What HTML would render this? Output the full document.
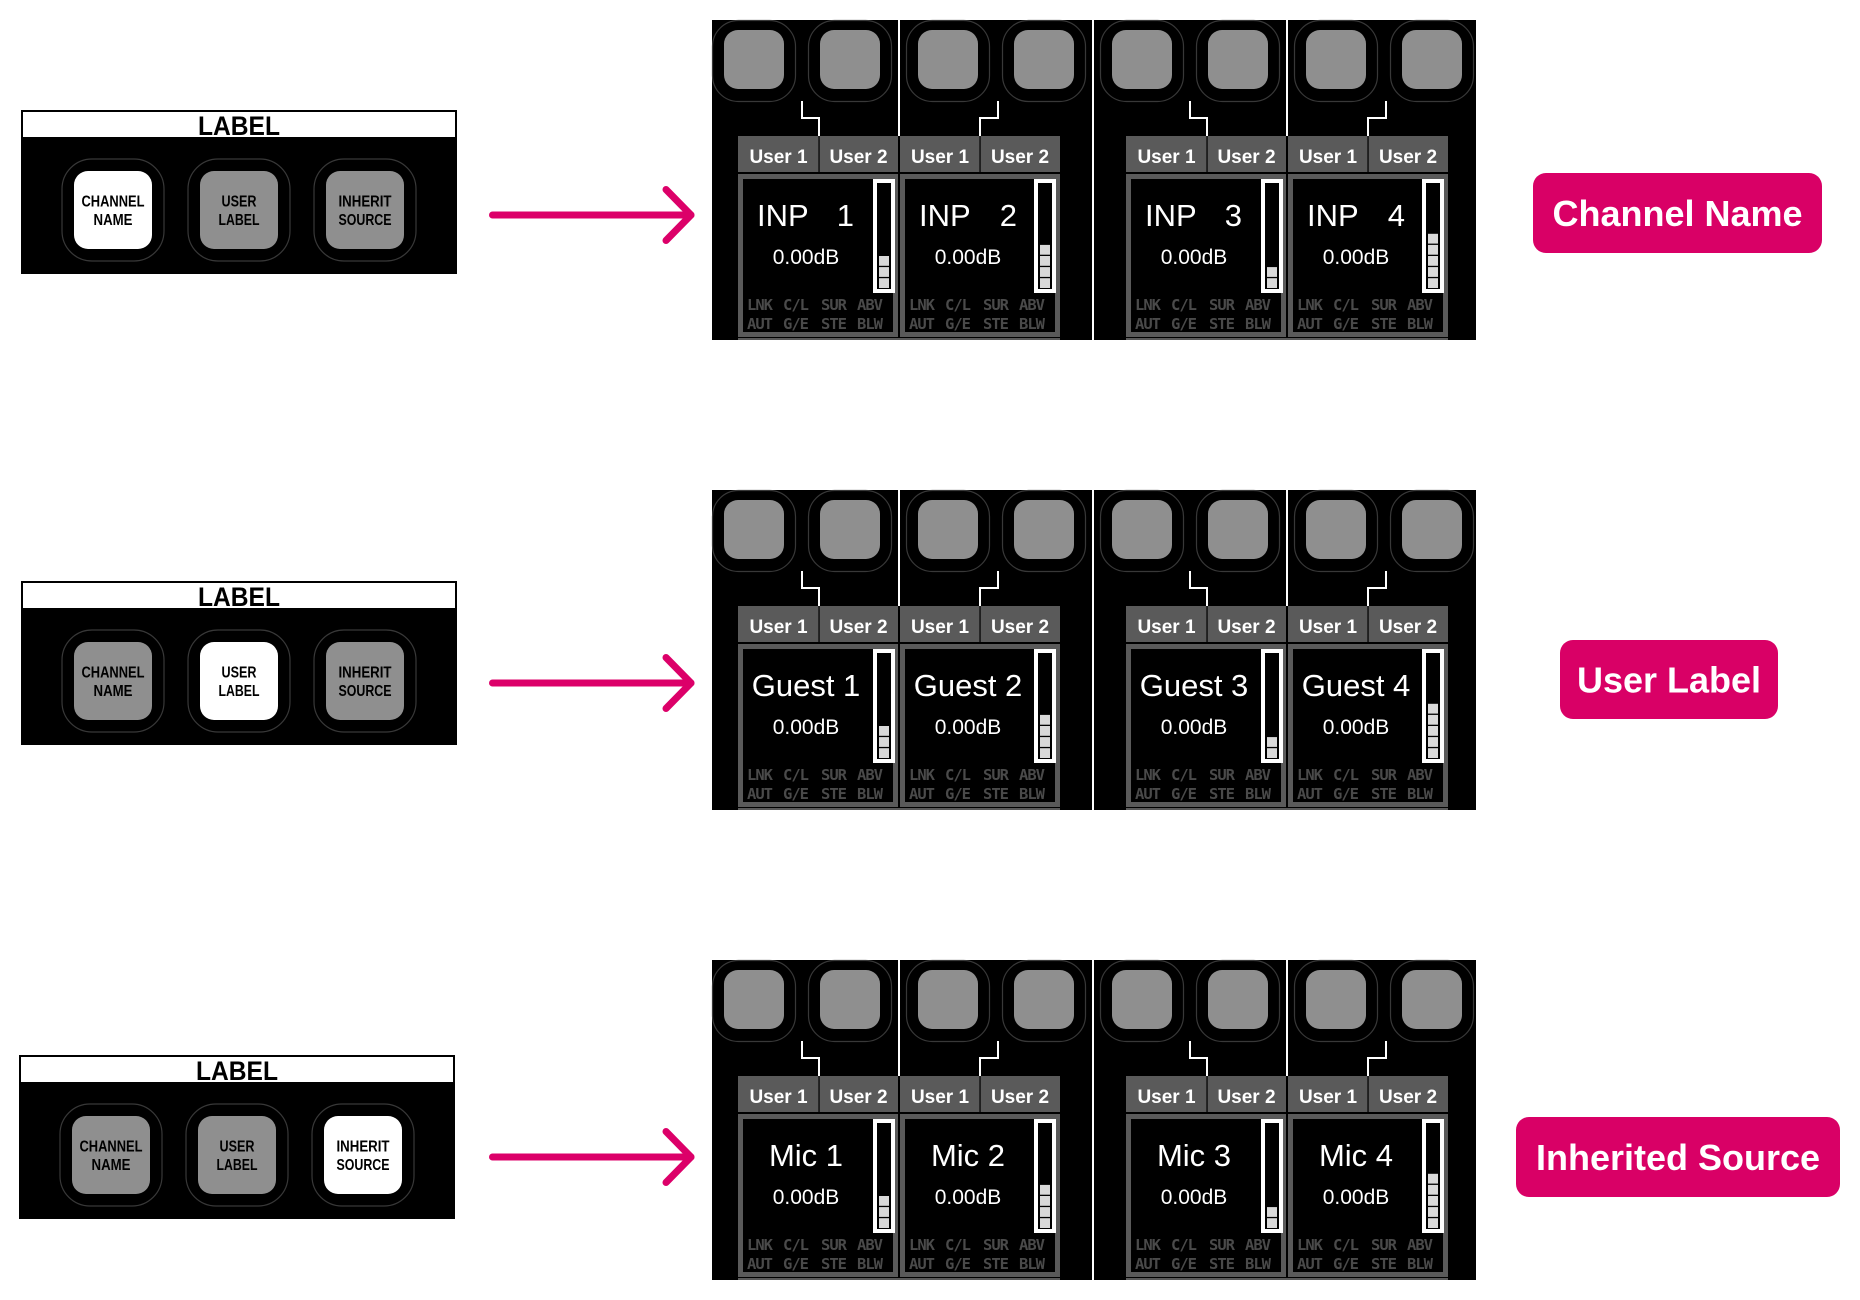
<!DOCTYPE html>
<html>
<head>
<meta charset="utf-8">
<style>
html,body{margin:0;padding:0;background:#fff;}
svg{display:block;}
.ring{fill:none;stroke:#383838;stroke-width:1.2;}
.con{fill:none;stroke:#fff;stroke-width:2;}
.disp{fill:#000;stroke:#5a5a5a;stroke-width:5;}
.mtr{fill:#000;stroke:#fff;stroke-width:4;}
.seg{fill:#d9d9d9;}
.hd{font-family:"Liberation Sans",sans-serif;font-weight:bold;font-size:19px;fill:#fff;text-anchor:middle;}
.nm{font-family:"Liberation Sans",sans-serif;font-size:31px;fill:#fff;}
.nmc{font-family:"Liberation Sans",sans-serif;font-size:31px;fill:#fff;text-anchor:middle;}
.nme{font-family:"Liberation Sans",sans-serif;font-size:31px;fill:#fff;text-anchor:end;}
.db{font-family:"Liberation Sans",sans-serif;font-size:21px;fill:#fff;text-anchor:middle;}
.st{font-family:"DejaVu Sans Mono","Liberation Mono",monospace;font-weight:bold;font-size:15.5px;fill:#4a4a4a;letter-spacing:-1px;}
.pl{font-family:"Liberation Sans",sans-serif;font-weight:bold;font-size:36px;fill:#fff;text-anchor:middle;}
.lb{font-family:"Liberation Sans",sans-serif;font-weight:bold;font-size:27px;fill:#000;text-anchor:middle;}
.bt{font-family:"Liberation Sans",sans-serif;font-weight:bold;font-size:16px;fill:#000;text-anchor:middle;}
</style>
</head>
<body>
<svg width="1860" height="1300" viewBox="0 0 1860 1300" xmlns="http://www.w3.org/2000/svg">

<!-- ================= LEFT LABEL BOXES ================= -->
<g>
  <rect x="21" y="110" width="436" height="164" fill="#000"/>
  <rect x="23" y="112" width="432" height="25" fill="#fff"/>
  <text x="239" y="135" class="lb" textLength="82" lengthAdjust="spacingAndGlyphs">LABEL</text>
  <rect x="62" y="159" width="102" height="102" rx="30" class="ring"/>
  <rect x="188" y="159" width="102" height="102" rx="30" class="ring"/>
  <rect x="314" y="159" width="102" height="102" rx="30" class="ring"/>
  <rect x="74" y="171" width="78" height="78" rx="14" fill="#fff"/>
  <rect x="200" y="171" width="78" height="78" rx="14" fill="#8f8f8f"/>
  <rect x="326" y="171" width="78" height="78" rx="14" fill="#8f8f8f"/>
  <text x="113" y="206.5" class="bt" textLength="63" lengthAdjust="spacingAndGlyphs">CHANNEL</text>
  <text x="113" y="225" class="bt" textLength="39" lengthAdjust="spacingAndGlyphs">NAME</text>
  <text x="239" y="206.5" class="bt" textLength="35" lengthAdjust="spacingAndGlyphs">USER</text>
  <text x="239" y="225" class="bt" textLength="41" lengthAdjust="spacingAndGlyphs">LABEL</text>
  <text x="365" y="206.5" class="bt" textLength="53" lengthAdjust="spacingAndGlyphs">INHERIT</text>
  <text x="365" y="225" class="bt" textLength="53" lengthAdjust="spacingAndGlyphs">SOURCE</text>
</g>

<g transform="translate(0,471)">
  <rect x="21" y="110" width="436" height="164" fill="#000"/>
  <rect x="23" y="112" width="432" height="25" fill="#fff"/>
  <text x="239" y="135" class="lb" textLength="82" lengthAdjust="spacingAndGlyphs">LABEL</text>
  <rect x="62" y="159" width="102" height="102" rx="30" class="ring"/>
  <rect x="188" y="159" width="102" height="102" rx="30" class="ring"/>
  <rect x="314" y="159" width="102" height="102" rx="30" class="ring"/>
  <rect x="74" y="171" width="78" height="78" rx="14" fill="#8f8f8f"/>
  <rect x="200" y="171" width="78" height="78" rx="14" fill="#fff"/>
  <rect x="326" y="171" width="78" height="78" rx="14" fill="#8f8f8f"/>
  <text x="113" y="206.5" class="bt" textLength="63" lengthAdjust="spacingAndGlyphs">CHANNEL</text>
  <text x="113" y="225" class="bt" textLength="39" lengthAdjust="spacingAndGlyphs">NAME</text>
  <text x="239" y="206.5" class="bt" textLength="35" lengthAdjust="spacingAndGlyphs">USER</text>
  <text x="239" y="225" class="bt" textLength="41" lengthAdjust="spacingAndGlyphs">LABEL</text>
  <text x="365" y="206.5" class="bt" textLength="53" lengthAdjust="spacingAndGlyphs">INHERIT</text>
  <text x="365" y="225" class="bt" textLength="53" lengthAdjust="spacingAndGlyphs">SOURCE</text>
</g>

<g transform="translate(-2,945)">
  <rect x="21" y="110" width="436" height="164" fill="#000"/>
  <rect x="23" y="112" width="432" height="25" fill="#fff"/>
  <text x="239" y="135" class="lb" textLength="82" lengthAdjust="spacingAndGlyphs">LABEL</text>
  <rect x="62" y="159" width="102" height="102" rx="30" class="ring"/>
  <rect x="188" y="159" width="102" height="102" rx="30" class="ring"/>
  <rect x="314" y="159" width="102" height="102" rx="30" class="ring"/>
  <rect x="74" y="171" width="78" height="78" rx="14" fill="#8f8f8f"/>
  <rect x="200" y="171" width="78" height="78" rx="14" fill="#8f8f8f"/>
  <rect x="326" y="171" width="78" height="78" rx="14" fill="#fff"/>
  <text x="113" y="206.5" class="bt" textLength="63" lengthAdjust="spacingAndGlyphs">CHANNEL</text>
  <text x="113" y="225" class="bt" textLength="39" lengthAdjust="spacingAndGlyphs">NAME</text>
  <text x="239" y="206.5" class="bt" textLength="35" lengthAdjust="spacingAndGlyphs">USER</text>
  <text x="239" y="225" class="bt" textLength="41" lengthAdjust="spacingAndGlyphs">LABEL</text>
  <text x="365" y="206.5" class="bt" textLength="53" lengthAdjust="spacingAndGlyphs">INHERIT</text>
  <text x="365" y="225" class="bt" textLength="53" lengthAdjust="spacingAndGlyphs">SOURCE</text>
</g>

<!-- ================= ARROWS ================= -->
<g stroke="#DC0069" stroke-width="7" stroke-linecap="round" stroke-linejoin="round" fill="none">
  <path d="M492.5 215H691"/><path d="M666 189.5L691 215L666 240.5"/>
  <g transform="translate(0,468)"><path d="M492.5 215H691"/><path d="M666 189.5L691 215L666 240.5"/></g>
  <g transform="translate(0,942)"><path d="M492.5 215H691"/><path d="M666 189.5L691 215L666 240.5"/></g>
</g>

<!-- ================= PILLS ================= -->
<rect x="1533" y="173" width="289" height="80" rx="13" fill="#D90066"/>
<text x="1677.5" y="226" class="pl">Channel Name</text>
<rect x="1560" y="640" width="218" height="79" rx="13" fill="#D90066"/>
<text x="1669" y="692.5" class="pl">User Label</text>
<rect x="1516" y="1117" width="324" height="80" rx="13" fill="#D90066"/>
<text x="1678" y="1170" class="pl">Inherited Source</text>

<!-- ================= PANELS ROW 1 ================= -->
<g>
  <rect x="712" y="20" width="380" height="320" fill="#000"/>
  <rect x="1094" y="20" width="382" height="320" fill="#000"/>
  <rect x="738" y="338" width="322" height="2" fill="#5a5a5a"/>
  <rect x="1126" y="338" width="322" height="2" fill="#5a5a5a"/>
  <g>
    <rect x="712.5" y="20.5" width="83" height="81" rx="26" class="ring"/>
    <rect x="724" y="30" width="60" height="59" rx="14" fill="#8f8f8f"/>
    <rect x="808.5" y="20.5" width="83" height="81" rx="26" class="ring"/>
    <rect x="820" y="30" width="60" height="59" rx="14" fill="#8f8f8f"/>
    <rect x="898" y="20" width="2" height="116" fill="#fff"/>
    <path d="M802 101V118H819V136" class="con"/>
    <rect x="738" y="136" width="160" height="36" fill="#5a5a5a"/>
    <rect x="818.3" y="136" width="1.5" height="36" fill="#111"/>
    <text x="778.5" y="163" class="hd">User 1</text>
    <text x="858.5" y="163" class="hd">User 2</text>
    <rect x="740.5" y="176.5" width="155" height="158" class="disp"/>
    <rect x="875" y="181" width="18" height="110" class="mtr"/>
    <rect x="879" y="278.2" width="10" height="9.8" class="seg"/>
    <rect x="879" y="267.1" width="10" height="9.8" class="seg"/>
    <rect x="879" y="256" width="10" height="9.8" class="seg"/>
    <text x="757" y="226" class="nm">INP</text><text x="854" y="226" class="nme">1</text>
    <text x="806" y="264" class="db">0.00dB</text>
    <text y="310" class="st"><tspan x="747">LNK</tspan><tspan x="783">C/L</tspan><tspan x="821">SUR</tspan><tspan x="857">ABV</tspan></text>
    <text y="329" class="st"><tspan x="747">AUT</tspan><tspan x="783">G/E</tspan><tspan x="821">STE</tspan><tspan x="857">BLW</tspan></text>
  </g>
  <g>
    <rect x="906.5" y="20.5" width="83" height="81" rx="26" class="ring"/>
    <rect x="918" y="30" width="60" height="59" rx="14" fill="#8f8f8f"/>
    <rect x="1002.5" y="20.5" width="83" height="81" rx="26" class="ring"/>
    <rect x="1014" y="30" width="60" height="59" rx="14" fill="#8f8f8f"/>
    <path d="M998 101V118H980V136" class="con"/>
    <rect x="900" y="136" width="160" height="36" fill="#5a5a5a"/>
    <rect x="979.3" y="136" width="1.5" height="36" fill="#111"/>
    <text x="940" y="163" class="hd">User 1</text>
    <text x="1020" y="163" class="hd">User 2</text>
    <rect x="902.5" y="176.5" width="155" height="158" class="disp"/>
    <rect x="1036" y="181" width="18" height="110" class="mtr"/>
    <rect x="1040" y="278.2" width="10" height="9.8" class="seg"/>
    <rect x="1040" y="267.1" width="10" height="9.8" class="seg"/>
    <rect x="1040" y="256" width="10" height="9.8" class="seg"/>
    <rect x="1040" y="244.9" width="10" height="9.8" class="seg"/>
    <text x="919" y="226" class="nm">INP</text><text x="1017" y="226" class="nme">2</text>
    <text x="968" y="264" class="db">0.00dB</text>
    <text y="310" class="st"><tspan x="909">LNK</tspan><tspan x="945">C/L</tspan><tspan x="983">SUR</tspan><tspan x="1019">ABV</tspan></text>
    <text y="329" class="st"><tspan x="909">AUT</tspan><tspan x="945">G/E</tspan><tspan x="983">STE</tspan><tspan x="1019">BLW</tspan></text>
  </g>
  <g transform="translate(388,0)">
    <rect x="712.5" y="20.5" width="83" height="81" rx="26" class="ring"/>
    <rect x="724" y="30" width="60" height="59" rx="14" fill="#8f8f8f"/>
    <rect x="808.5" y="20.5" width="83" height="81" rx="26" class="ring"/>
    <rect x="820" y="30" width="60" height="59" rx="14" fill="#8f8f8f"/>
    <rect x="898" y="20" width="2" height="116" fill="#fff"/>
    <path d="M802 101V118H819V136" class="con"/>
    <rect x="738" y="136" width="160" height="36" fill="#5a5a5a"/>
    <rect x="818.3" y="136" width="1.5" height="36" fill="#111"/>
    <text x="778.5" y="163" class="hd">User 1</text>
    <text x="858.5" y="163" class="hd">User 2</text>
    <rect x="740.5" y="176.5" width="155" height="158" class="disp"/>
    <rect x="875" y="181" width="18" height="110" class="mtr"/>
    <rect x="879" y="278.2" width="10" height="9.8" class="seg"/>
    <rect x="879" y="267.1" width="10" height="9.8" class="seg"/>
    <text x="757" y="226" class="nm">INP</text><text x="854" y="226" class="nme">3</text>
    <text x="806" y="264" class="db">0.00dB</text>
    <text y="310" class="st"><tspan x="747">LNK</tspan><tspan x="783">C/L</tspan><tspan x="821">SUR</tspan><tspan x="857">ABV</tspan></text>
    <text y="329" class="st"><tspan x="747">AUT</tspan><tspan x="783">G/E</tspan><tspan x="821">STE</tspan><tspan x="857">BLW</tspan></text>
  </g>
  <g transform="translate(388,0)">
    <rect x="906.5" y="20.5" width="83" height="81" rx="26" class="ring"/>
    <rect x="918" y="30" width="60" height="59" rx="14" fill="#8f8f8f"/>
    <rect x="1002.5" y="20.5" width="83" height="81" rx="26" class="ring"/>
    <rect x="1014" y="30" width="60" height="59" rx="14" fill="#8f8f8f"/>
    <path d="M998 101V118H980V136" class="con"/>
    <rect x="900" y="136" width="160" height="36" fill="#5a5a5a"/>
    <rect x="979.3" y="136" width="1.5" height="36" fill="#111"/>
    <text x="940" y="163" class="hd">User 1</text>
    <text x="1020" y="163" class="hd">User 2</text>
    <rect x="902.5" y="176.5" width="155" height="158" class="disp"/>
    <rect x="1036" y="181" width="18" height="110" class="mtr"/>
    <rect x="1040" y="278.2" width="10" height="9.8" class="seg"/>
    <rect x="1040" y="267.1" width="10" height="9.8" class="seg"/>
    <rect x="1040" y="256" width="10" height="9.8" class="seg"/>
    <rect x="1040" y="244.9" width="10" height="9.8" class="seg"/>
    <rect x="1040" y="233.8" width="10" height="9.8" class="seg"/>
    <text x="919" y="226" class="nm">INP</text><text x="1017" y="226" class="nme">4</text>
    <text x="968" y="264" class="db">0.00dB</text>
    <text y="310" class="st"><tspan x="909">LNK</tspan><tspan x="945">C/L</tspan><tspan x="983">SUR</tspan><tspan x="1019">ABV</tspan></text>
    <text y="329" class="st"><tspan x="909">AUT</tspan><tspan x="945">G/E</tspan><tspan x="983">STE</tspan><tspan x="1019">BLW</tspan></text>
  </g>
</g>

<!-- ================= PANELS ROW 2 ================= -->
<g transform="translate(0,470)">
  <rect x="712" y="20" width="380" height="320" fill="#000"/>
  <rect x="1094" y="20" width="382" height="320" fill="#000"/>
  <rect x="738" y="338" width="322" height="2" fill="#5a5a5a"/>
  <rect x="1126" y="338" width="322" height="2" fill="#5a5a5a"/>
  <g>
    <rect x="712.5" y="20.5" width="83" height="81" rx="26" class="ring"/>
    <rect x="724" y="30" width="60" height="59" rx="14" fill="#8f8f8f"/>
    <rect x="808.5" y="20.5" width="83" height="81" rx="26" class="ring"/>
    <rect x="820" y="30" width="60" height="59" rx="14" fill="#8f8f8f"/>
    <rect x="898" y="20" width="2" height="116" fill="#fff"/>
    <path d="M802 101V118H819V136" class="con"/>
    <rect x="738" y="136" width="160" height="36" fill="#5a5a5a"/>
    <rect x="818.3" y="136" width="1.5" height="36" fill="#111"/>
    <text x="778.5" y="163" class="hd">User 1</text>
    <text x="858.5" y="163" class="hd">User 2</text>
    <rect x="740.5" y="176.5" width="155" height="158" class="disp"/>
    <rect x="875" y="181" width="18" height="110" class="mtr"/>
    <rect x="879" y="278.2" width="10" height="9.8" class="seg"/>
    <rect x="879" y="267.1" width="10" height="9.8" class="seg"/>
    <rect x="879" y="256" width="10" height="9.8" class="seg"/>
    <text x="806" y="226" class="nmc">Guest 1</text>
    <text x="806" y="264" class="db">0.00dB</text>
    <text y="310" class="st"><tspan x="747">LNK</tspan><tspan x="783">C/L</tspan><tspan x="821">SUR</tspan><tspan x="857">ABV</tspan></text>
    <text y="329" class="st"><tspan x="747">AUT</tspan><tspan x="783">G/E</tspan><tspan x="821">STE</tspan><tspan x="857">BLW</tspan></text>
  </g>
  <g>
    <rect x="906.5" y="20.5" width="83" height="81" rx="26" class="ring"/>
    <rect x="918" y="30" width="60" height="59" rx="14" fill="#8f8f8f"/>
    <rect x="1002.5" y="20.5" width="83" height="81" rx="26" class="ring"/>
    <rect x="1014" y="30" width="60" height="59" rx="14" fill="#8f8f8f"/>
    <path d="M998 101V118H980V136" class="con"/>
    <rect x="900" y="136" width="160" height="36" fill="#5a5a5a"/>
    <rect x="979.3" y="136" width="1.5" height="36" fill="#111"/>
    <text x="940" y="163" class="hd">User 1</text>
    <text x="1020" y="163" class="hd">User 2</text>
    <rect x="902.5" y="176.5" width="155" height="158" class="disp"/>
    <rect x="1036" y="181" width="18" height="110" class="mtr"/>
    <rect x="1040" y="278.2" width="10" height="9.8" class="seg"/>
    <rect x="1040" y="267.1" width="10" height="9.8" class="seg"/>
    <rect x="1040" y="256" width="10" height="9.8" class="seg"/>
    <rect x="1040" y="244.9" width="10" height="9.8" class="seg"/>
    <text x="968" y="226" class="nmc">Guest 2</text>
    <text x="968" y="264" class="db">0.00dB</text>
    <text y="310" class="st"><tspan x="909">LNK</tspan><tspan x="945">C/L</tspan><tspan x="983">SUR</tspan><tspan x="1019">ABV</tspan></text>
    <text y="329" class="st"><tspan x="909">AUT</tspan><tspan x="945">G/E</tspan><tspan x="983">STE</tspan><tspan x="1019">BLW</tspan></text>
  </g>
  <g transform="translate(388,0)">
    <rect x="712.5" y="20.5" width="83" height="81" rx="26" class="ring"/>
    <rect x="724" y="30" width="60" height="59" rx="14" fill="#8f8f8f"/>
    <rect x="808.5" y="20.5" width="83" height="81" rx="26" class="ring"/>
    <rect x="820" y="30" width="60" height="59" rx="14" fill="#8f8f8f"/>
    <rect x="898" y="20" width="2" height="116" fill="#fff"/>
    <path d="M802 101V118H819V136" class="con"/>
    <rect x="738" y="136" width="160" height="36" fill="#5a5a5a"/>
    <rect x="818.3" y="136" width="1.5" height="36" fill="#111"/>
    <text x="778.5" y="163" class="hd">User 1</text>
    <text x="858.5" y="163" class="hd">User 2</text>
    <rect x="740.5" y="176.5" width="155" height="158" class="disp"/>
    <rect x="875" y="181" width="18" height="110" class="mtr"/>
    <rect x="879" y="278.2" width="10" height="9.8" class="seg"/>
    <rect x="879" y="267.1" width="10" height="9.8" class="seg"/>
    <text x="806" y="226" class="nmc">Guest 3</text>
    <text x="806" y="264" class="db">0.00dB</text>
    <text y="310" class="st"><tspan x="747">LNK</tspan><tspan x="783">C/L</tspan><tspan x="821">SUR</tspan><tspan x="857">ABV</tspan></text>
    <text y="329" class="st"><tspan x="747">AUT</tspan><tspan x="783">G/E</tspan><tspan x="821">STE</tspan><tspan x="857">BLW</tspan></text>
  </g>
  <g transform="translate(388,0)">
    <rect x="906.5" y="20.5" width="83" height="81" rx="26" class="ring"/>
    <rect x="918" y="30" width="60" height="59" rx="14" fill="#8f8f8f"/>
    <rect x="1002.5" y="20.5" width="83" height="81" rx="26" class="ring"/>
    <rect x="1014" y="30" width="60" height="59" rx="14" fill="#8f8f8f"/>
    <path d="M998 101V118H980V136" class="con"/>
    <rect x="900" y="136" width="160" height="36" fill="#5a5a5a"/>
    <rect x="979.3" y="136" width="1.5" height="36" fill="#111"/>
    <text x="940" y="163" class="hd">User 1</text>
    <text x="1020" y="163" class="hd">User 2</text>
    <rect x="902.5" y="176.5" width="155" height="158" class="disp"/>
    <rect x="1036" y="181" width="18" height="110" class="mtr"/>
    <rect x="1040" y="278.2" width="10" height="9.8" class="seg"/>
    <rect x="1040" y="267.1" width="10" height="9.8" class="seg"/>
    <rect x="1040" y="256" width="10" height="9.8" class="seg"/>
    <rect x="1040" y="244.9" width="10" height="9.8" class="seg"/>
    <rect x="1040" y="233.8" width="10" height="9.8" class="seg"/>
    <text x="968" y="226" class="nmc">Guest 4</text>
    <text x="968" y="264" class="db">0.00dB</text>
    <text y="310" class="st"><tspan x="909">LNK</tspan><tspan x="945">C/L</tspan><tspan x="983">SUR</tspan><tspan x="1019">ABV</tspan></text>
    <text y="329" class="st"><tspan x="909">AUT</tspan><tspan x="945">G/E</tspan><tspan x="983">STE</tspan><tspan x="1019">BLW</tspan></text>
  </g>
</g>

<!-- ================= PANELS ROW 3 ================= -->
<g transform="translate(0,940)">
  <rect x="712" y="20" width="380" height="320" fill="#000"/>
  <rect x="1094" y="20" width="382" height="320" fill="#000"/>
  <rect x="738" y="338" width="322" height="2" fill="#5a5a5a"/>
  <rect x="1126" y="338" width="322" height="2" fill="#5a5a5a"/>
  <g>
    <rect x="712.5" y="20.5" width="83" height="81" rx="26" class="ring"/>
    <rect x="724" y="30" width="60" height="59" rx="14" fill="#8f8f8f"/>
    <rect x="808.5" y="20.5" width="83" height="81" rx="26" class="ring"/>
    <rect x="820" y="30" width="60" height="59" rx="14" fill="#8f8f8f"/>
    <rect x="898" y="20" width="2" height="116" fill="#fff"/>
    <path d="M802 101V118H819V136" class="con"/>
    <rect x="738" y="136" width="160" height="36" fill="#5a5a5a"/>
    <rect x="818.3" y="136" width="1.5" height="36" fill="#111"/>
    <text x="778.5" y="163" class="hd">User 1</text>
    <text x="858.5" y="163" class="hd">User 2</text>
    <rect x="740.5" y="176.5" width="155" height="158" class="disp"/>
    <rect x="875" y="181" width="18" height="110" class="mtr"/>
    <rect x="879" y="278.2" width="10" height="9.8" class="seg"/>
    <rect x="879" y="267.1" width="10" height="9.8" class="seg"/>
    <rect x="879" y="256" width="10" height="9.8" class="seg"/>
    <text x="806" y="226" class="nmc">Mic 1</text>
    <text x="806" y="264" class="db">0.00dB</text>
    <text y="310" class="st"><tspan x="747">LNK</tspan><tspan x="783">C/L</tspan><tspan x="821">SUR</tspan><tspan x="857">ABV</tspan></text>
    <text y="329" class="st"><tspan x="747">AUT</tspan><tspan x="783">G/E</tspan><tspan x="821">STE</tspan><tspan x="857">BLW</tspan></text>
  </g>
  <g>
    <rect x="906.5" y="20.5" width="83" height="81" rx="26" class="ring"/>
    <rect x="918" y="30" width="60" height="59" rx="14" fill="#8f8f8f"/>
    <rect x="1002.5" y="20.5" width="83" height="81" rx="26" class="ring"/>
    <rect x="1014" y="30" width="60" height="59" rx="14" fill="#8f8f8f"/>
    <path d="M998 101V118H980V136" class="con"/>
    <rect x="900" y="136" width="160" height="36" fill="#5a5a5a"/>
    <rect x="979.3" y="136" width="1.5" height="36" fill="#111"/>
    <text x="940" y="163" class="hd">User 1</text>
    <text x="1020" y="163" class="hd">User 2</text>
    <rect x="902.5" y="176.5" width="155" height="158" class="disp"/>
    <rect x="1036" y="181" width="18" height="110" class="mtr"/>
    <rect x="1040" y="278.2" width="10" height="9.8" class="seg"/>
    <rect x="1040" y="267.1" width="10" height="9.8" class="seg"/>
    <rect x="1040" y="256" width="10" height="9.8" class="seg"/>
    <rect x="1040" y="244.9" width="10" height="9.8" class="seg"/>
    <text x="968" y="226" class="nmc">Mic 2</text>
    <text x="968" y="264" class="db">0.00dB</text>
    <text y="310" class="st"><tspan x="909">LNK</tspan><tspan x="945">C/L</tspan><tspan x="983">SUR</tspan><tspan x="1019">ABV</tspan></text>
    <text y="329" class="st"><tspan x="909">AUT</tspan><tspan x="945">G/E</tspan><tspan x="983">STE</tspan><tspan x="1019">BLW</tspan></text>
  </g>
  <g transform="translate(388,0)">
    <rect x="712.5" y="20.5" width="83" height="81" rx="26" class="ring"/>
    <rect x="724" y="30" width="60" height="59" rx="14" fill="#8f8f8f"/>
    <rect x="808.5" y="20.5" width="83" height="81" rx="26" class="ring"/>
    <rect x="820" y="30" width="60" height="59" rx="14" fill="#8f8f8f"/>
    <rect x="898" y="20" width="2" height="116" fill="#fff"/>
    <path d="M802 101V118H819V136" class="con"/>
    <rect x="738" y="136" width="160" height="36" fill="#5a5a5a"/>
    <rect x="818.3" y="136" width="1.5" height="36" fill="#111"/>
    <text x="778.5" y="163" class="hd">User 1</text>
    <text x="858.5" y="163" class="hd">User 2</text>
    <rect x="740.5" y="176.5" width="155" height="158" class="disp"/>
    <rect x="875" y="181" width="18" height="110" class="mtr"/>
    <rect x="879" y="278.2" width="10" height="9.8" class="seg"/>
    <rect x="879" y="267.1" width="10" height="9.8" class="seg"/>
    <text x="806" y="226" class="nmc">Mic 3</text>
    <text x="806" y="264" class="db">0.00dB</text>
    <text y="310" class="st"><tspan x="747">LNK</tspan><tspan x="783">C/L</tspan><tspan x="821">SUR</tspan><tspan x="857">ABV</tspan></text>
    <text y="329" class="st"><tspan x="747">AUT</tspan><tspan x="783">G/E</tspan><tspan x="821">STE</tspan><tspan x="857">BLW</tspan></text>
  </g>
  <g transform="translate(388,0)">
    <rect x="906.5" y="20.5" width="83" height="81" rx="26" class="ring"/>
    <rect x="918" y="30" width="60" height="59" rx="14" fill="#8f8f8f"/>
    <rect x="1002.5" y="20.5" width="83" height="81" rx="26" class="ring"/>
    <rect x="1014" y="30" width="60" height="59" rx="14" fill="#8f8f8f"/>
    <path d="M998 101V118H980V136" class="con"/>
    <rect x="900" y="136" width="160" height="36" fill="#5a5a5a"/>
    <rect x="979.3" y="136" width="1.5" height="36" fill="#111"/>
    <text x="940" y="163" class="hd">User 1</text>
    <text x="1020" y="163" class="hd">User 2</text>
    <rect x="902.5" y="176.5" width="155" height="158" class="disp"/>
    <rect x="1036" y="181" width="18" height="110" class="mtr"/>
    <rect x="1040" y="278.2" width="10" height="9.8" class="seg"/>
    <rect x="1040" y="267.1" width="10" height="9.8" class="seg"/>
    <rect x="1040" y="256" width="10" height="9.8" class="seg"/>
    <rect x="1040" y="244.9" width="10" height="9.8" class="seg"/>
    <rect x="1040" y="233.8" width="10" height="9.8" class="seg"/>
    <text x="968" y="226" class="nmc">Mic 4</text>
    <text x="968" y="264" class="db">0.00dB</text>
    <text y="310" class="st"><tspan x="909">LNK</tspan><tspan x="945">C/L</tspan><tspan x="983">SUR</tspan><tspan x="1019">ABV</tspan></text>
    <text y="329" class="st"><tspan x="909">AUT</tspan><tspan x="945">G/E</tspan><tspan x="983">STE</tspan><tspan x="1019">BLW</tspan></text>
  </g>
</g>

</svg>
</body>
</html>
